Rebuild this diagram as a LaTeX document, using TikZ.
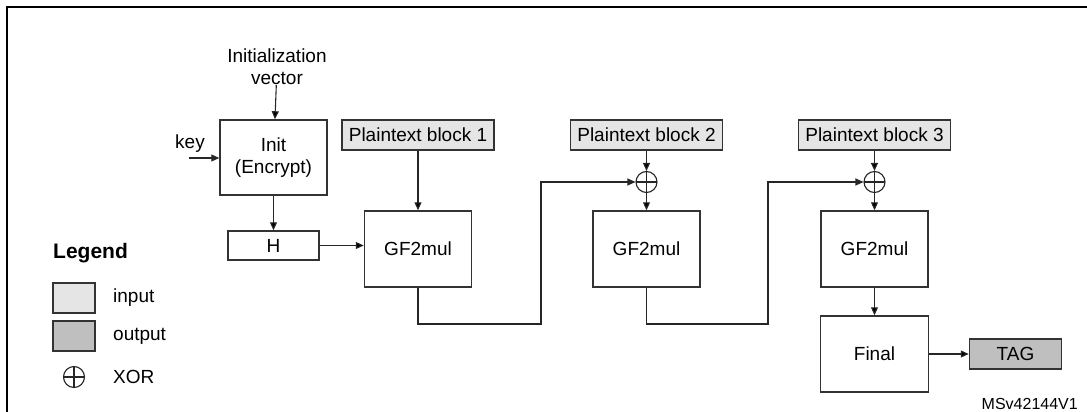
\documentclass[tikz,border=0pt]{standalone}
\usepackage{fontspec}
\setmainfont{Liberation Sans}
\usetikzlibrary{arrows.meta,positioning}
\tikzset{
    block/.style={
    rectangle,draw=black!80,line width=1.5pt,font=\fontsize{19}{22}\selectfont,align=center,inner sep=0pt
    },
    inblock/.style={
    block,fill=black!10
    },
    outblock/.style={
    block,fill=black!25
    },
    xorop/.style={
    circle,draw=black!85,line width=1.1pt,minimum size=21pt,inner sep=0pt,
    path picture={\draw[line width=1.1pt] (path picture bounding box.north) -- (path picture bounding box.south)
      (path picture bounding box.west) -- (path picture bounding box.east);}
    },
    lbl/.style={
    font=\fontsize{19}{22}\selectfont,align=center,inner sep=0pt
    },
    flow/.style={
    draw=black!85,line width=1.1pt,->
    },
}

\begin{document}
\begin{tikzpicture}[x=1pt, y=-1pt, >={Triangle[length=8pt,width=7pt]}, on grid]
   \useasboundingbox (0,0) rectangle (1087,412);
   \draw[line width=2pt] (7,412) -- (7,7) -- (1087,7);

   % key and H
   \node[lbl] (iv) at (277,67) {Initialization\\vector};
   \node[block,minimum width=107pt,minimum height=75pt] (init) at (273.5,157.5) {Init\\(Encrypt)};
   \node[lbl,anchor=base] (key) at (190,148) {key};
   \coordinate (keyin) at (189,158);
   \node[block,minimum width=91pt,minimum height=29pt] (h) at (273.5,245.5) {H};

   % plaintext chain
   \node[inblock,minimum width=152pt,minimum height=30pt] (pt1) at (418,135) {Plaintext block 1};
   \node[inblock,minimum width=152pt,minimum height=30pt] (pt2) [right=228.5pt of pt1] {Plaintext block 2};
   \node[inblock,minimum width=152pt,minimum height=30pt] (pt3) [right=228pt of pt2] {Plaintext block 3};
   \node[block,minimum width=107pt,minimum height=76pt] (gf1) [below=114pt of pt1] {GF2mul};
   \node[xorop] (xor2) [below=47pt of pt2] {};
   \node[block,minimum width=107pt,minimum height=76pt] (gf2) [below=67pt of xor2] {GF2mul};
   \node[xorop] (xor3) [below=47pt of pt3] {};
   \node[block,minimum width=107pt,minimum height=76pt] (gf3) [below=67pt of xor3] {GF2mul};
   \node[block,minimum width=108pt,minimum height=76pt] (final) [below=105pt of gf3] {Final};
   \node[outblock,minimum width=92pt,minimum height=30pt] (tag) [right=141pt of final] {TAG};
   \coordinate (fb1) at (541,324);
   \coordinate (fb2) at (768,324);

  \path[flow]
             (iv)     edge   (init)
             (init)   edge   (h)
             (h)      edge   (h -| gf1.west)
             (pt1)    edge   (gf1)
             (pt2)    edge   (xor2)
             (xor2)   edge   (gf2)
             (pt3)    edge   (xor3)
             (xor3)   edge   (gf3)
             (gf3)    edge   (final)
             (final)  edge   (tag);
   \draw[flow] (keyin) -- (keyin -| init.west);
   \draw[flow] (gf1) |- (fb1) |- (xor2);
   \draw[flow] (gf2) |- (fb2) |- (xor3);

   % legend
   \node[font=\fontsize{21}{24}\selectfont\bfseries,anchor=west,inner sep=0pt] (legend) at (53,253) {Legend};
   \node[inblock,minimum width=42pt,minimum height=30pt] (kin) at (74,298) {};
   \node[outblock,minimum width=42pt,minimum height=30pt] (kout) at (74,336) {};
   \node[xorop] (kxor) at (74,377) {};
   \node[lbl,anchor=west] (tin) at (113,298) {input};
   \node[lbl,anchor=west] (tout) at (113,336) {output};
   \node[lbl,anchor=west] (txor) at (113,377) {XOR};

   \node[font=\fontsize{16}{18}\selectfont,anchor=base east,inner sep=0pt] (ref) at (1078,409) {MSv42144V1};
\end{tikzpicture}
\end{document}
